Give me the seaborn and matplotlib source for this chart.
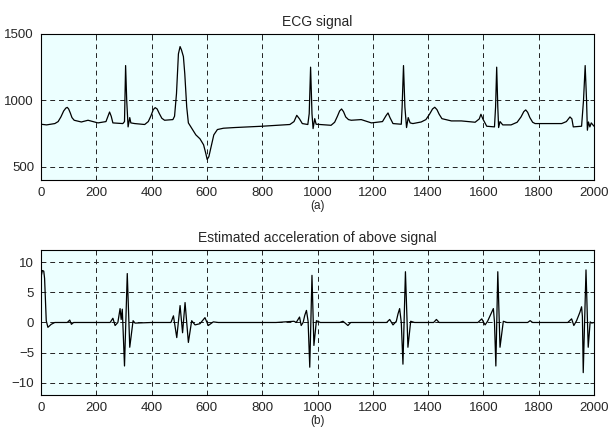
import numpy as np
import pandas as pd
import seaborn as sns
import matplotlib.pyplot as plt

# ECG signal, vertices (sample index, amplitude)
ecg_x = [0, 20, 50, 62, 72, 82, 90, 95, 100, 106, 112, 120, 146, 170, 206, 235, 243, 248, 254, 260,
         296, 302, 306, 310, 315, 321, 325, 339, 375, 388, 398, 406, 413, 420, 428, 437, 447, 477,
         483, 490, 497, 503, 508, 515, 520, 527, 533, 545, 560, 575, 588, 596, 601, 607, 615, 625,
         638, 660, 700, 800, 857, 900, 915, 925, 935, 945, 965, 970, 975, 980, 984, 990, 995, 1049,
         1062, 1072, 1080, 1087, 1094, 1102, 1112, 1122, 1158, 1195, 1235, 1248, 1255, 1262, 1273,
         1303, 1306, 1311, 1316, 1322, 1328, 1335, 1345, 1375, 1392, 1405, 1416, 1424, 1432, 1440,
         1450, 1484, 1520, 1570, 1585, 1591, 1598, 1612, 1640, 1644, 1648, 1652, 1655, 1660, 1670,
         1700, 1722, 1736, 1746, 1753, 1760, 1768, 1778, 1787, 1883, 1900, 1913, 1920, 1925, 1955,
         1962, 1968, 1973, 1976, 1980, 1985, 1990, 2000]
ecg_y = [820, 815, 825, 840, 875, 920, 942, 947, 935, 905, 870, 850, 837, 850, 830, 840, 885, 912, 880, 830,
         825, 840, 1262, 1000, 800, 870, 830, 825, 818, 840, 885, 930, 945, 935, 900, 865, 850, 855,
         880, 1050, 1350, 1405, 1380, 1330, 1200, 950, 830, 790, 740, 710, 665, 600, 555, 575, 650, 740,
         780, 790, 795, 805, 812, 818, 840, 887, 860, 825, 818, 900, 1250, 900, 787, 862, 820, 812,
         835, 880, 920, 935, 915, 875, 855, 850, 855, 830, 840, 885, 905, 870, 825,
         820, 950, 1262, 950, 795, 870, 830, 825, 837, 855, 895, 935, 948, 930, 895,
         862, 845, 845, 835, 860, 895, 860, 805, 800, 950, 1250, 950, 795, 840, 815,
         815, 835, 875, 915, 928, 910, 870, 835, 825, 825, 840, 875, 860, 800, 805,
         1000, 1262, 1000, 775, 837, 800, 830, 805]

# estimated acceleration (second derivative), vertices
acc_x = [0, 5, 10, 13, 19, 25, 37, 50, 95, 104, 110, 118, 200, 250, 260, 268, 278, 286, 290, 294,
         302, 312, 321, 333, 340, 400, 470, 479, 491, 503, 512, 521, 533, 545, 557, 575, 593, 605,
         623, 641, 660, 700, 850, 915, 923, 935, 941, 948, 954, 960, 966, 972, 980, 987, 996, 1010,
         1080, 1092, 1100, 1110, 1120, 1250, 1261, 1273, 1285, 1291, 1297, 1303, 1309, 1318, 1327,
         1337, 1351, 1420, 1430, 1440, 1580, 1594, 1606, 1615, 1630, 1636, 1640, 1645, 1652, 1660,
         1672, 1685, 1760, 1769, 1778, 1905, 1919, 1927, 1937, 1949, 1955, 1958, 1961, 1971, 1979,
         1986, 1992, 2000]
acc_y = [7.5, 8.6, 8.5, 7.3, 0.3, -0.8, -0.3, 0.0, 0.0, 0.4, -0.3, 0.0, 0.0, 0.0, 0.7, -0.5, 0.0, 2.3, 0.5, 2.2,
         -7.2, 8.1, -4.1, 0.3, -0.1, 0.0, 0.0, 1.1, -2.5, 2.8, -1.7, 3.3, -3.3, 0.3, -0.4, -0.2, 0.8, -0.5,
         0.1, 0.0, 0.0, 0.0, 0.0, 0.2, 0.0, 0.9, -0.5, 0.0, 1.2, 2.0, 0.2, -7.4, 7.8, -3.8, 0.3, 0.0,
         0.0, 0.2, -0.1, -0.5, 0.0, 0.0, 0.5, -0.4, 0.2, 1.4, 2.3, 0.0, -6.9, 8.4, -4.1,
         0.2, 0.0, 0.0, 0.5, 0.0, 0.0, 0.6, -0.4, 0.2, 1.7, 2.3, 0.1, -7.2, 8.4, -4.1,
         0.2, 0.0, 0.0, 0.3, 0.0, 0.0, 0.6, -0.5, 0.3, 1.7, 2.6, 1.0, -8.3, 8.7, -4.1,
         0.1, -0.1, 0.0]

ecg = pd.DataFrame({"sample": ecg_x, "value": ecg_y})
acc = pd.DataFrame({"sample": acc_x, "value": acc_y})

sns.set_theme(style="ticks")
plt.rcParams["font.family"] = ["Liberation Sans", "DejaVu Sans"]

fig = plt.figure(figsize=(6.1, 4.34), dpi=100)
ax1 = fig.add_axes([0.0672, 0.5853, 0.9066, 0.3364])
ax2 = fig.add_axes([0.0672, 0.0899, 0.9066, 0.3341])

panels = [
    (ax1, ecg, "ECG signal", "(a)", (400, 1500), [500, 1000, 1500]),
    (ax2, acc, "Estimated acceleration of above signal", "(b)", (-12, 12), [-10, -5, 0, 5, 10]),
]

for ax, df, title, lab, ylim, yticks in panels:
    ax.set_facecolor("#ECFFFF")
    sns.lineplot(data=df, x="sample", y="value", ax=ax, color="black", linewidth=0.9,
                 estimator=None, sort=False)
    ax.set_xlim(0, 2000)
    ax.set_ylim(*ylim)
    ax.set_xticks(range(0, 2001, 200))
    ax.set_yticks(yticks)
    ax.grid(True, color="#222222", linestyle=(0, (5, 4)), linewidth=0.7)
    ax.set_title(title, fontsize=10, pad=6)
    ax.set_xlabel(lab, fontsize=8.5, labelpad=1)
    ax.set_ylabel("")
    ax.tick_params(direction="in", labelsize=9.5, length=3, width=0.7, pad=5,
                   top=True, right=True)
    for s in ax.spines.values():
        s.set_linewidth(0.8)
        s.set_color("black")

fig.savefig("out.png", dpi=100)
